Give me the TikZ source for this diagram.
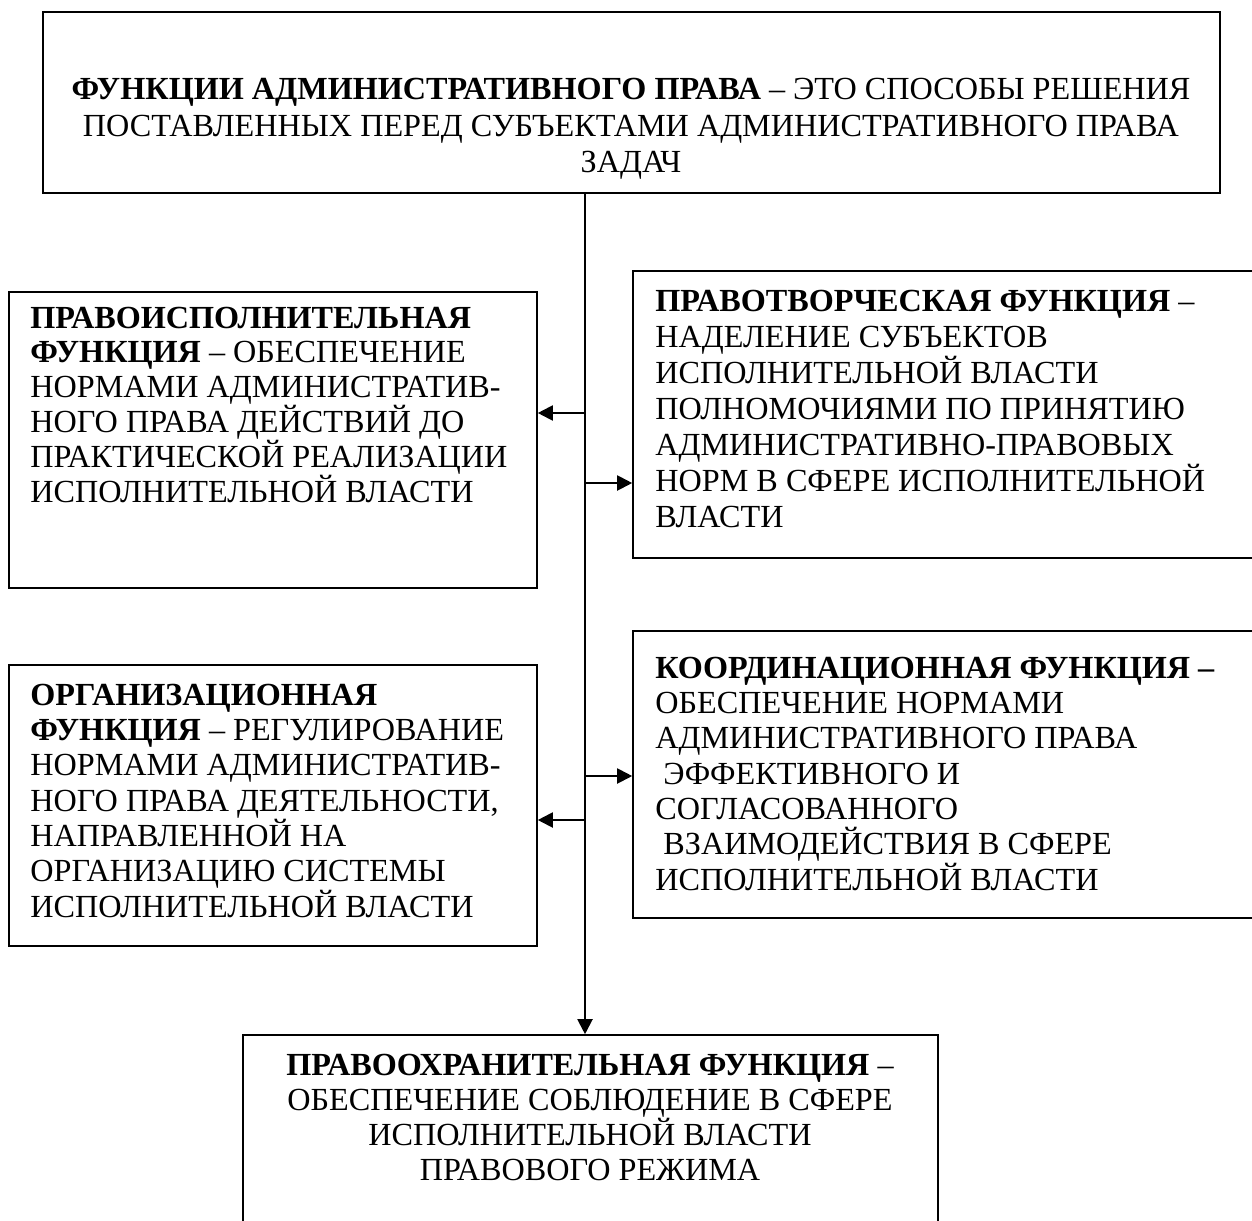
\documentclass[tikz,border=0pt]{standalone}
\usepackage{fontspec}
\setmainfont{Liberation Serif}
\usetikzlibrary{fit,arrows.meta}
\tikzset{
  box/.style={draw, line width=0.8pt, inner sep=0pt},
  txt/.style={inner sep=0pt},
  conn/.style={line width=1pt},
  tip/.style={-{Triangle[length=7.5pt,width=7.5pt]}}
}
\begin{document}
\begin{tikzpicture}[x=0.5pt,y=-0.5pt]
\useasboundingbox[fill=white] (0,0) rectangle (1252,1220);
\clip (0,0) rectangle (1252,1220);
% boxes
\node[box, fit={(43,12) (1220,193)}] (top) {};
\node[box, fit={(9,292) (537,588)}] (lb1) {};
\node[box, fit={(633,271) (1262,558)}] (rb1) {};
\node[box, fit={(633,631) (1262,918)}] (rb2) {};
\node[box, fit={(9,665) (537,946)}] (lb2) {};
\node[box, fit={(243,1035) (938,1232)}] (bot) {};
% texts (anchor = baseline of the last line)
\node[txt, anchor=base, align=center, font={\fontsize{16.1}{18}\selectfont}] (ttop) at (631,172)
  {\textbf{ФУНКЦИИ АДМИНИСТРАТИВНОГО ПРАВА} – ЭТО СПОСОБЫ РЕШЕНИЯ\\
   ПОСТАВЛЕННЫХ ПЕРЕД СУБЪЕКТАМИ АДМИНИСТРАТИВНОГО ПРАВА\\
   ЗАДАЧ};
\node[txt, anchor=base west, align=left, font={\fontsize{16.1}{17.4}\selectfont}] (tlb1) at (30,502)
  {\textbf{ПРАВОИСПОЛНИТЕЛЬНАЯ}\\
   \textbf{ФУНКЦИЯ} – ОБЕСПЕЧЕНИЕ\\
   НОРМАМИ АДМИНИСТРАТИВ-\\
   НОГО ПРАВА ДЕЙСТВИЙ ДО\\
   ПРАКТИЧЕСКОЙ РЕАЛИЗАЦИИ\\
   ИСПОЛНИТЕЛЬНОЙ ВЛАСТИ};
\node[txt, anchor=base west, align=left, font={\fontsize{16.1}{18}\selectfont}] (trb1) at (655,527)
  {\textbf{ПРАВОТВОРЧЕСКАЯ ФУНКЦИЯ} –\\
   НАДЕЛЕНИЕ СУБЪЕКТОВ\\
   ИСПОЛНИТЕЛЬНОЙ ВЛАСТИ\\
   ПОЛНОМОЧИЯМИ ПО ПРИНЯТИЮ\\
   АДМИНИСТРАТИВНО-ПРАВОВЫХ\\
   НОРМ В СФЕРЕ ИСПОЛНИТЕЛЬНОЙ\\
   ВЛАСТИ};
\node[txt, anchor=base west, align=left, font={\fontsize{16.1}{17.65}\selectfont}] (tlb2) at (30,917)
  {\textbf{ОРГАНИЗАЦИОННАЯ}\\
   \textbf{ФУНКЦИЯ} – РЕГУЛИРОВАНИЕ\\
   НОРМАМИ АДМИНИСТРАТИВ-\\
   НОГО ПРАВА ДЕЯТЕЛЬНОСТИ,\\
   НАПРАВЛЕННОЙ НА\\
   ОРГАНИЗАЦИЮ СИСТЕМЫ\\
   ИСПОЛНИТЕЛЬНОЙ ВЛАСТИ};
\node[txt, anchor=base west, align=left, font={\fontsize{16.1}{17.65}\selectfont}] (trb2) at (655,890)
  {\textbf{КООРДИНАЦИОННАЯ ФУНКЦИЯ –}\\
   ОБЕСПЕЧЕНИЕ НОРМАМИ\\
   АДМИНИСТРАТИВНОГО ПРАВА\\
   \hspace*{4pt}ЭФФЕКТИВНОГО И\\
   СОГЛАСОВАННОГО\\
   \hspace*{4pt}ВЗАИМОДЕЙСТВИЯ В СФЕРЕ\\
   ИСПОЛНИТЕЛЬНОЙ ВЛАСТИ};
\node[txt, anchor=base, align=center, font={\fontsize{16.1}{17.5}\selectfont}] (tbot) at (590,1180)
  {\textbf{ПРАВООХРАНИТЕЛЬНАЯ ФУНКЦИЯ} –\\
   ОБЕСПЕЧЕНИЕ СОБЛЮДЕНИЕ В СФЕРЕ\\
   ИСПОЛНИТЕЛЬНОЙ ВЛАСТИ\\
   ПРАВОВОГО РЕЖИМА};
% connectors
\coordinate (tx) at (585,0);
\coordinate (j1) at (585,413);
\coordinate (j2) at (585,483);
\coordinate (j3) at (585,776);
\coordinate (j4) at (585,820);
\draw[conn, tip] (top.south -| tx) -- (bot.north -| tx);
\draw[conn, tip] (j1) -- (j1 -| lb1.east);
\draw[conn, tip] (j2) -- (j2 -| rb1.west);
\draw[conn, tip] (j3) -- (j3 -| rb2.west);
\draw[conn, tip] (j4) -- (j4 -| lb2.east);
\end{tikzpicture}
\end{document}
